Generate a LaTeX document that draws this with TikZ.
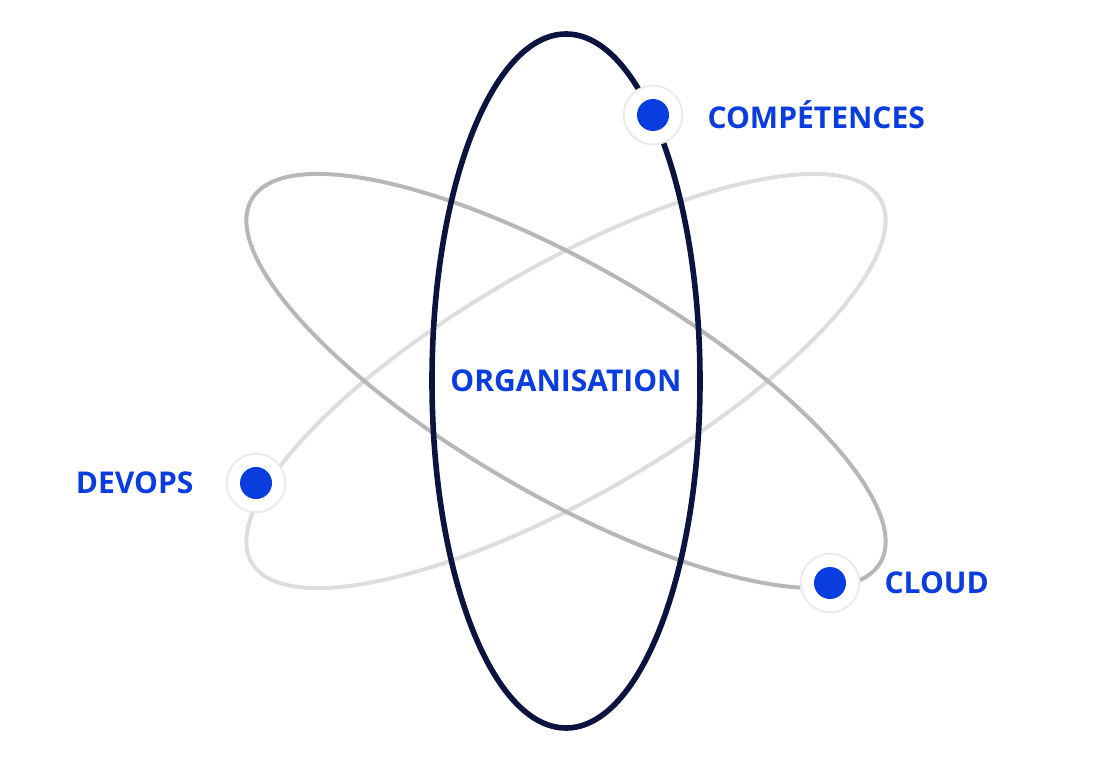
\documentclass[tikz,border=0pt]{standalone}
\usepackage{fontspec}
\setmainfont{Open Sans}
\usetikzlibrary{positioning}
\definecolor{navy}{HTML}{0B1440}
\definecolor{orbitdark}{HTML}{B7B7B7}
\definecolor{orbitlight}{HTML}{DDDDDD}
\definecolor{dotblue}{HTML}{0A3DE0}
\tikzset{
  orbit/.style={line width=3pt},
  ring/.style={circle, fill=white, draw=black!8, line width=1.5pt, minimum size=44pt, inner sep=0pt},
  dot/.style={circle, fill=dotblue, minimum size=24pt, inner sep=0pt},
  lbl/.style={text=dotblue, font=\bfseries\fontsize{22.5}{27}\selectfont, inner sep=0pt}
}

\begin{document}
\begin{tikzpicture}[x=0.75pt, y=-0.75pt]
\useasboundingbox (0,0) rectangle (1096,763);

\draw[orbit, orbitlight] (566,381) ellipse[x radius=363, y radius=115, rotate=30];
\draw[orbit, orbitdark] (566,381) ellipse[x radius=363, y radius=115, rotate=-30];
\draw[line width=4.2pt, navy] (566,381) ellipse[x radius=134, y radius=347];

\node[lbl] (org) at (566,381) {ORGANISATION};

\node[ring] (rcomp) at (653,115) {};
\node[dot] (dcomp) at (rcomp) {};
\node[lbl, right=18pt of rcomp] (comp) {COMPÉTENCES};

\node[ring] (rdev) at (256,483) {};
\node[dot] (ddev) at (rdev) {};
\node[lbl, left=24pt of rdev] (dev) {DEVOPS};

\node[ring] (rcloud) at (830,583) {};
\node[dot] (dcloud) at (rcloud) {};
\node[lbl, right=18pt of rcloud] (cloud) {CLOUD};
\end{tikzpicture}
\end{document}
